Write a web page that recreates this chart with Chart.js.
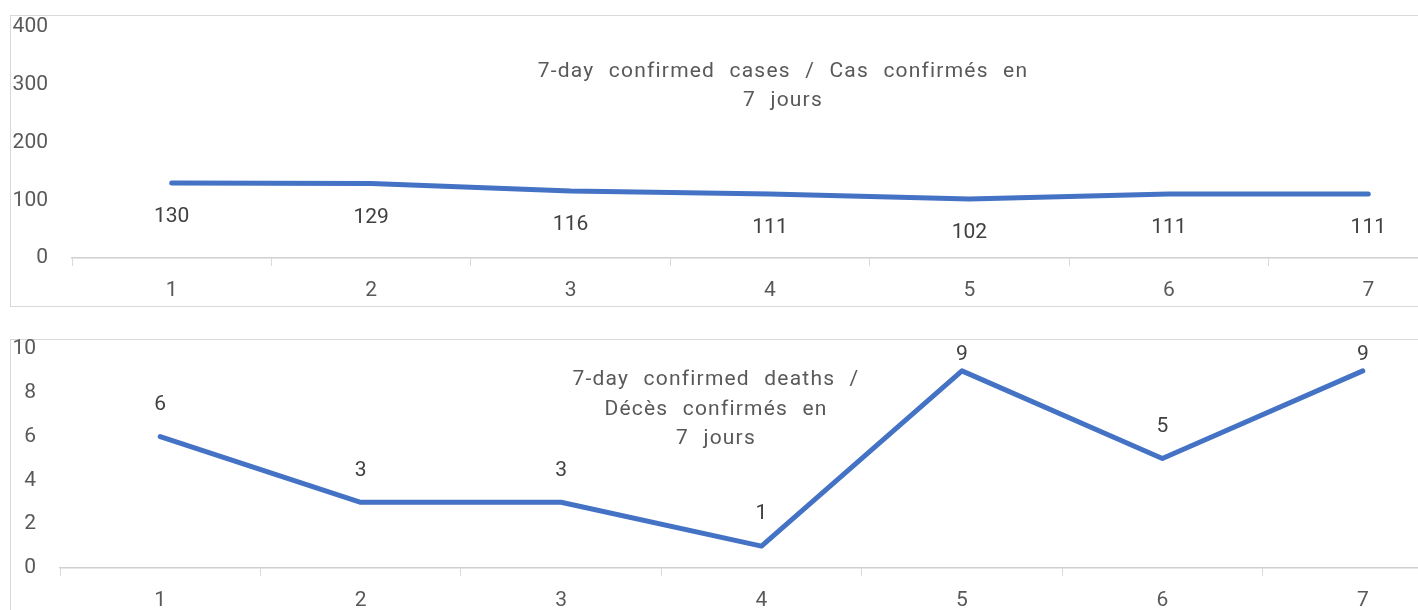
<!DOCTYPE html>
<html>
<head>
<meta charset="utf-8">
<script src="https://cdn.jsdelivr.net/npm/chart.js@4/dist/chart.umd.min.js"></script>
<style>
  html, body { margin: 0; padding: 0; background: #fff; overflow: hidden; width: 1418px; height: 610px; }
  .box { position: absolute; border: 1px solid #d9d9d9; box-sizing: border-box; }
  canvas { position: absolute; left: 0; }
</style>
</head>
<body>
<div class="box" style="left:10px; top:15px; width:1500px; height:292px;"></div>
<div class="box" style="left:10px; top:339px; width:1500px; height:300px;"></div>
<canvas id="cases" width="1500" height="320" style="top:0px"></canvas>
<canvas id="deaths" width="1500" height="280" style="top:330px"></canvas>
<script>
// données
const weeks = ['1', '2', '3', '4', '5', '6', '7'];
const cases = [130, 129, 116, 111, 102, 111, 111];
const deaths = [6, 3, 3, 1, 9, 5, 9];
const casesTitle = ['7-day confirmed cases / Cas confirmés en', '7 jours'];
const deathsTitle = ['7-day confirmed deaths /', 'Décès confirmés en', '7 jours'];

const FONT = 'Roboto, "Open Sans", sans-serif';
const BLUE = '#4472C4';

// étiquettes de valeurs à côté des points
const valueLabels = {
  id: 'valueLabels',
  afterDatasetsDraw(chart, args, opts) {
    const ctx = chart.ctx;
    const meta = chart.getDatasetMeta(0);
    const values = chart.data.datasets[0].data;
    ctx.save();
    ctx.font = '21px ' + FONT;
    ctx.fillStyle = '#404040';
    ctx.textAlign = 'center';
    ctx.textBaseline = 'middle';
    meta.data.forEach((pt, i) => {
      let y = pt.y + opts.offset;
      if (y < chart.chartArea.top + opts.minTop) y = chart.chartArea.top + opts.minTop;
      ctx.fillText(values[i], pt.x, y);
    });
    ctx.restore();
  }
};

// titre dans la zone du graphique
const innerTitle = {
  id: 'innerTitle',
  afterDraw(chart, args, opts) {
    const ctx = chart.ctx;
    ctx.save();
    ctx.font = '21px ' + FONT;
    ctx.letterSpacing = '1.2px';
    ctx.wordSpacing = '8px';
    ctx.fillStyle = '#595959';
    ctx.textAlign = 'center';
    ctx.textBaseline = 'middle';
    opts.lines.forEach((line, i) => ctx.fillText(line, opts.x, opts.y + i * opts.lineHeight));
    ctx.restore();
  }
};

function makeChart(id, values, cfg) {
  const ctx = document.getElementById(id).getContext('2d');
  return new Chart(ctx, {
    type: 'line',
    data: {
      labels: weeks,
      datasets: [{
        data: values,
        borderColor: BLUE,
        borderWidth: 5,
        borderCapStyle: 'round',
        borderJoinStyle: 'round',
        pointRadius: 0,
        tension: 0,
        fill: false
      }]
    },
    options: {
      responsive: false,
      animation: false,
      layout: { padding: { left: 0, right: cfg.padRight, top: cfg.padTop, bottom: 0 } },
      scales: {
        x: {
          offset: true,
          grid: {
            display: true,
            offset: true,
            drawOnChartArea: false,
            drawTicks: true,
            tickLength: 8,
            color: '#d9d9d9'
          },
          border: { display: true, color: '#d0d0d0', width: 1.5, dash: cfg.dash },
          ticks: { color: '#595959', font: { size: 21, family: FONT }, padding: cfg.xPad },
          afterFit(scale) { scale.height = cfg.xHeight; }
        },
        y: {
          min: 0,
          max: cfg.max,
          ticks: { stepSize: cfg.step, color: '#595959', font: { size: 21, family: FONT }, padding: 16 },
          grid: { display: false },
          border: { display: false },
          afterFit(scale) {
            scale.width = cfg.yWidth;
            scale.paddingTop = 0;
            scale.paddingBottom = 0;
          }
        }
      },
      plugins: {
        legend: { display: false },
        tooltip: { enabled: false },
        valueLabels: { offset: cfg.labelOffset, minTop: cfg.minTop },
        innerTitle: cfg.title
      }
    },
    plugins: [valueLabels, innerTitle]
  });
}

makeChart('cases', cases, {
  max: 400, step: 100, padRight: 32, padTop: 27, yWidth: 72, xHeight: 62, xPad: 12,
  dash: [], labelOffset: 34, minTop: 0,
  title: { lines: casesTitle, x: 783, y: 72, lineHeight: 29 }
});

makeChart('deaths', deaths, {
  max: 10, step: 2, padRight: 37, padTop: 19, yWidth: 60, xHeight: 42, xPad: 12,
  dash: [2, 2], labelOffset: -32, minTop: 6,
  title: { lines: deathsTitle, x: 716, y: 50, lineHeight: 29.5 }
});
</script>
</body>
</html>
